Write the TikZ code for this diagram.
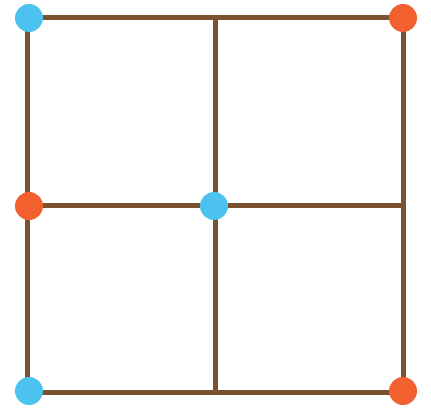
\documentclass[tikz,border=0pt]{standalone}
\definecolor{brn}{HTML}{7A5230}
\definecolor{blu}{HTML}{4BC3EE}
\definecolor{org}{HTML}{F2602F}
\begin{document}
\begin{tikzpicture}[x=1pt,y=-1pt,
  edge/.style={draw=brn,line width=5pt},
  bdot/.style={circle,fill=blu,minimum size=28pt,inner sep=0pt},
  odot/.style={circle,fill=org,minimum size=28pt,inner sep=0pt}]
\useasboundingbox (0,0) rectangle (431,411);
\fill[white] (0,0) rectangle (431,411);
\coordinate (tl) at (27,18);
\coordinate (tm) at (215,18);
\coordinate (tr) at (403,18);
\coordinate (ml) at (27,206);
\coordinate (mm) at (215,206);
\coordinate (mr) at (403,206);
\coordinate (bl) at (27,393);
\coordinate (bm) at (215,393);
\coordinate (br) at (403,393);
\draw[edge] (tl) -- (tr) -- (br) -- (bl) -- cycle;
\draw[edge] (tm) -- (bm);
\draw[edge] (ml) -- (mr);
\node[bdot] (d1) at (29,18) {};
\node[odot] (d2) at (403,18) {};
\node[odot] (d3) at (29,206) {};
\node[bdot] (d4) at (214,206) {};
\node[bdot] (d5) at (29,391) {};
\node[odot] (d6) at (403,391) {};
\end{tikzpicture}
\end{document}
